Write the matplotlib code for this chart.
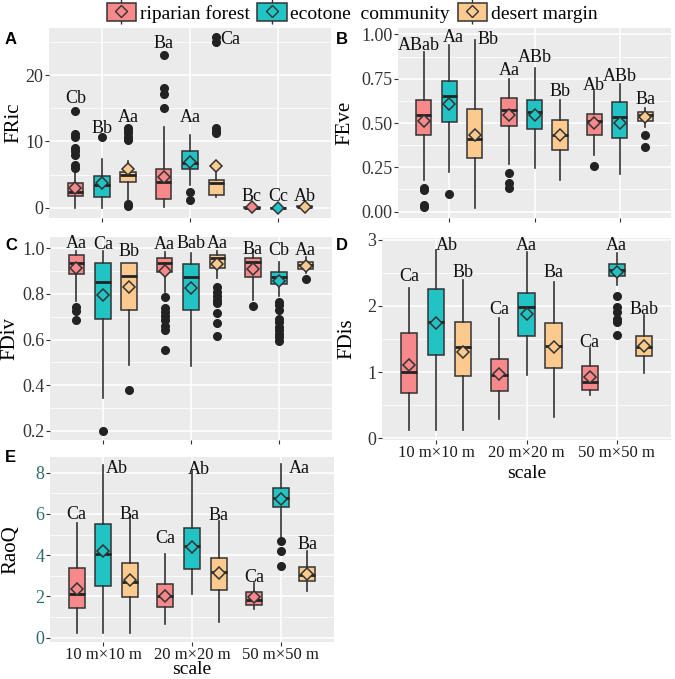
import matplotlib
matplotlib.use('Agg')
import matplotlib.pyplot as plt
from matplotlib.patches import Patch
from matplotlib.lines import Line2D
from matplotlib.ticker import MultipleLocator

# order of the 9 boxes: scale 1 (rip, eco, des), scale 2 (...), scale 3 (...)
scales = ['10 m\u00d710 m', '20 m\u00d720 m', '50 m\u00d750 m']
habitats = ['riparian forest', 'ecotone  community', 'desert margin']
colors = ['#F7898B', '#22C3C5', '#FCC98F']

fric_lo = [0, 0, 1.2, 0.15, 3.4, 1.6, 0, 0, 0.05]
fric_q1 = [1.76, 1.66, 3.9, 1.3, 5.9, 1.9, 0.0, 0.0, 0.05]
fric_med = [2.4, 3.5, 5.0, 3.9, 6.8, 3.8, 0.02, 0.01, 0.12]
fric_q3 = [3.67, 4.8, 5.4, 5.8, 8.5, 4.2, 0.05, 0.03, 0.2]
fric_hi = [5.2, 7.4, 7.0, 12.2, 11.0, 5.2, 0.1, 0.05, 0.3]
fric_mean = [3.0, 3.67, 5.8, 4.7, 6.9, 6.3, 0.05, 0.02, 0.15]
fric_out = [[6.0, 6.5, 8.0, 8.5, 9.0, 10.7, 11.1, 14.6], [10.7],
            [0.2, 0.5, 10.2, 10.7, 11.2, 11.6, 12.0], [15.1, 17.1, 18.0, 23.1],
            [1.2, 2.3], [11.2, 11.6, 12.0, 25.0, 25.7], [], [], []]
fric_lab = ['Cb', 'Bb', 'Aa', 'Ba', 'Aa', 'Ca', 'Bc', 'Cc', 'Ab']
fric_lab_y = [16.4, 12.0, 13.6, 24.8, 13.6, 25.3, 1.65, 1.65, 1.65]

feve_lo = [0.18, 0.225, 0.02, 0.27, 0.245, 0.18, 0.32, 0.21, 0.48]
feve_q1 = [0.43, 0.507, 0.30, 0.483, 0.466, 0.348, 0.43, 0.414, 0.511]
feve_med = [0.545, 0.65, 0.41, 0.573, 0.56, 0.43, 0.51, 0.536, 0.545]
feve_q3 = [0.63, 0.737, 0.58, 0.643, 0.63, 0.517, 0.55, 0.617, 0.564]
feve_hi = [0.90, 0.94, 0.97, 0.75, 0.81, 0.63, 0.68, 0.72, 0.583]
feve_mean = [0.51, 0.61, 0.43, 0.545, 0.545, 0.43, 0.50, 0.50, 0.536]
feve_out = [[0.025, 0.04, 0.12, 0.135], [0.10], [], [0.135, 0.163, 0.216],
            [], [], [0.26], [], [0.366, 0.432]]
feve_lab = ['ABab', 'Aa', 'Bb', 'Aa', 'ABb', 'Bb', 'Ab', 'ABb', 'Ba']
feve_lab_y = [0.94, 0.98, 0.97, 0.795, 0.87, 0.68, 0.71, 0.765, 0.635]

fdiv_lo = [0.77, 0.342, 0.488, 0.807, 0.484, 0.87, 0.773, 0.79, 0.89]
fdiv_q1 = [0.886, 0.688, 0.73, 0.895, 0.73, 0.912, 0.873, 0.843, 0.908]
fdiv_med = [0.934, 0.854, 0.88, 0.937, 0.873, 0.956, 0.94, 0.873, 0.927]
fdiv_q3 = [0.97, 0.937, 0.934, 0.96, 0.93, 0.97, 0.956, 0.895, 0.94]
fdiv_hi = [0.99, 0.99, 0.934, 0.985, 0.98, 0.99, 0.99, 0.94, 0.963]
fdiv_mean = [0.912, 0.795, 0.832, 0.902, 0.825, 0.93, 0.908, 0.857, 0.924]
fdiv_out = [[0.686, 0.727, 0.741], [0.2], [0.378],
            [0.554, 0.642, 0.66, 0.686, 0.705, 0.72, 0.737, 0.785], [],
            [0.615, 0.674, 0.715, 0.76, 0.775, 0.79, 0.81, 0.832], [0.748],
            [0.595, 0.61, 0.625, 0.64, 0.655, 0.675, 0.69, 0.73, 0.75, 0.765],
            [0.864]]
fdiv_lab = ['Aa', 'Ca', 'Bb', 'Aa', 'Bab', 'Aa', 'Ba', 'Cb', 'Aa']
fdiv_lab_y = [1.02, 1.015, 0.985, 1.015, 1.02, 1.02, 0.996, 0.99, 0.99]

fdis_lo = [0.126, 0.126, 0.116, 0.29, 0.958, 0.318, 0.645, 2.32, 0.983]
fdis_q1 = [0.68, 1.26, 0.933, 0.706, 1.54, 1.06, 0.72, 2.456, 1.235]
fdis_med = [1.0, 1.755, 1.377, 0.948, 1.98, 1.397, 0.842, 2.547, 1.377]
fdis_q3 = [1.59, 2.26, 1.765, 1.195, 2.19, 1.74, 1.084, 2.637, 1.538]
fdis_hi = [2.27, 2.85, 2.4, 1.815, 2.82, 2.37, 1.36, 2.81, 1.866]
fdis_mean = [1.1, 1.74, 1.31, 0.968, 1.88, 1.377, 0.923, 2.51, 1.387]
fdis_out = [[], [], [], [], [], [], [], [1.563, 1.75, 1.805, 1.906, 1.98, 2.15], []]
fdis_lab = ['Ca', 'Ab', 'Bb', 'Ca', 'Aa', 'Ba', 'Ca', 'Aa', 'Bab']
fdis_lab_y = [2.44, 2.91, 2.5, 1.95, 2.91, 2.5, 1.45, 2.91, 1.95]

raoq_lo = [0.24, 0.24, 0.24, 0.66, 2.12, 0.78, 1.39, 4.86, 2.28]
raoq_q1 = [1.42, 2.52, 1.95, 1.47, 3.33, 2.31, 1.58, 6.32, 2.75]
raoq_med = [2.1, 4.05, 2.71, 2.04, 4.44, 3.17, 1.83, 6.79, 3.04]
raoq_q3 = [3.36, 5.51, 3.6, 2.58, 5.33, 3.84, 2.23, 7.27, 3.41]
raoq_hi = [5.57, 8.37, 5.86, 4.05, 8.13, 5.67, 2.63, 8.42, 4.2]
raoq_mean = [2.34, 4.2, 2.79, 2.04, 4.38, 3.12, 1.95, 6.7, 3.09]
raoq_out = [[], [], [], [], [], [], [], [3.47, 4.22, 4.7], []]
raoq_lab = ['Ca', 'Ab', 'Ba', 'Ca', 'Ab', 'Ba', 'Ca', 'Aa', 'Ba']
raoq_lab_y = [5.95, 8.2, 5.95, 4.8, 8.13, 5.9, 2.9, 8.2, 4.52]

SERIF = ['Liberation Serif', 'DejaVu Serif']
W, H = 675, 679
fig = plt.figure(figsize=(W / 100, H / 100), dpi=100)


def px_axes(l, t, r, b):
    return fig.add_axes([l / W, 1 - b / H, (r - l) / W, (b - t) / H])


def panel(ax, lo, q1, med, q3, hi, mean, out, lab, lab_y, ylab, ylim,
          major, minor, fmt, xlab_y=None, tickcolor='#333333',
          ylab_x=None, nudge=None):
    nudge = nudge or {}
    ax.set_facecolor('#EBEBEB')
    for s in ax.spines.values():
        s.set_visible(False)
    stats, pos = [], []
    for i in range(9):
        g, h = divmod(i, 3)
        pos.append(g + 1 + (h - 1) * 0.3)
        stats.append(dict(whislo=lo[i], q1=q1[i], med=med[i], q3=q3[i],
                          whishi=hi[i], fliers=out[i], mean=mean[i]))
    bp = ax.bxp(stats, positions=pos, widths=0.18, patch_artist=True,
                showcaps=False, showmeans=True, manage_ticks=False,
                boxprops=dict(edgecolor='#333333', linewidth=1.1),
                whiskerprops=dict(color='#333333', linewidth=1.2),
                medianprops=dict(color='#222222', linewidth=2.0),
                flierprops=dict(marker='o', markerfacecolor='#222222',
                                markeredgecolor='#222222', markersize=5.5),
                meanprops=dict(marker='D', markeredgecolor='#333333',
                               markersize=6.3, markeredgewidth=1.1))
    for i in range(9):
        c = colors[i % 3]
        bp['boxes'][i].set_facecolor(c)
        bp['means'][i].set_markerfacecolor(c)
        ax.text(pos[i] + nudge.get(i, 0), lab_y[i], lab[i], ha='center', va='center',
                family=SERIF, fontsize=13, color='#111111')
    ax.set_xlim(0.4, 3.6)
    ax.set_ylim(*ylim)
    ax.yaxis.set_major_locator(MultipleLocator(major))
    ax.yaxis.set_minor_locator(MultipleLocator(minor))
    ax.yaxis.set_major_formatter(plt.FuncFormatter(lambda v, p: fmt % v))
    ax.set_xticks([1, 2, 3])
    ax.grid(True, which='major', color='white', linewidth=1.1)
    ax.grid(True, which='minor', axis='y', color='white', linewidth=0.55)
    ax.set_axisbelow(True)
    ax.tick_params(axis='both', which='major', length=3, width=0.8,
                   color='#333333', labelsize=13, pad=1)
    ax.tick_params(axis='x', which='major', pad=0.5)
    ax.tick_params(axis='y', which='minor', length=0)
    for t in ax.get_yticklabels():
        t.set_family(SERIF)
        t.set_color(tickcolor)
    bb = ax.get_position()
    if xlab_y is not None:
        ax.set_xticklabels(scales, family=SERIF, fontsize=12, color='#1a1a1a')
        ax.set_xlabel('scale', family=SERIF, fontsize=14)
        # xlab_y: pixel of the label's centre
        ax.xaxis.set_label_coords(0.5, ((1 - xlab_y / H) - bb.y0) / bb.height)
        ax.xaxis.label.set_va('center')
    else:
        ax.set_xticklabels([])
    ax.set_ylabel(ylab, family=SERIF, fontsize=15)
    if ylab_x is not None:
        # ylab_x: pixel of the label's right edge
        ax.yaxis.set_label_coords((ylab_x / W - bb.x0) / bb.width, 0.5)


axA = px_axes(49, 28, 331, 218)
panel(axA, fric_lo, fric_q1, fric_med, fric_q3, fric_hi, fric_mean, fric_out,
      fric_lab, fric_lab_y, 'FRic', (-1.55, 27.1), 10, 5, '%d', ylab_x=23,
      nudge={5: 0.16})

axB = px_axes(398, 28, 671, 218)
panel(axB, feve_lo, feve_q1, feve_med, feve_q3, feve_hi, feve_mean, feve_out,
      feve_lab, feve_lab_y, 'FEve', (-0.036, 1.036), 0.25, 0.125, '%.2f',
      ylab_x=354, nudge={0: -0.06, 1: 0.05, 2: 0.15})

axC = px_axes(50, 237, 332, 440)
panel(axC, fdiv_lo, fdiv_q1, fdiv_med, fdiv_q3, fdiv_hi, fdiv_mean, fdiv_out,
      fdiv_lab, fdiv_lab_y, 'FDiv', (0.159, 1.05), 0.2, 0.1, '%.1f', ylab_x=19)

axD = px_axes(382, 238, 671, 440)
panel(axD, fdis_lo, fdis_q1, fdis_med, fdis_q3, fdis_hi, fdis_mean, fdis_out,
      fdis_lab, fdis_lab_y, 'FDis', (-0.03, 3.03), 1, 0.5, '%d', xlab_y=473,
      ylab_x=356, nudge={1: 0.12})

axE = px_axes(50, 457, 334, 642)
panel(axE, raoq_lo, raoq_q1, raoq_med, raoq_q3, raoq_hi, raoq_mean, raoq_out,
      raoq_lab, raoq_lab_y, 'RaoQ', (-0.21, 8.76), 2, 1, '%d', xlab_y=669,
      tickcolor='#2F6B6D', ylab_x=20, nudge={1: 0.15, 4: 0.08, 7: 0.21})

# panel letters
for letter, x, y in [('A', 5, 39), ('B', 336, 39), ('C', 5, 245),
                     ('D', 336, 245), ('E', 5, 457)]:
    fig.text(x / W, 1 - y / H, letter, family=['Liberation Sans', 'DejaVu Sans'],
             fontweight='bold', fontsize=12, ha='left', va='center')

# legend
handles = []
for c in colors:
    handles.append((Line2D([], [], color='#333333', lw=1.1, marker='|',
                           markersize=18, ls='none'),
                    Patch(facecolor=c, edgecolor='#333333', linewidth=1.1),
                    Line2D([], [], marker='D', ls='none', markersize=6,
                           markerfacecolor=c, markeredgecolor='#333333')))
fig.legend(handles, habitats, loc='center', bbox_to_anchor=(352 / W, 1 - 13 / H),
           ncol=3, frameon=False, handlelength=1.5, handleheight=1.0,
           handletextpad=0.2, columnspacing=0.4, prop=dict(family=SERIF, size=14))

fig.savefig('out.png', dpi=100)
